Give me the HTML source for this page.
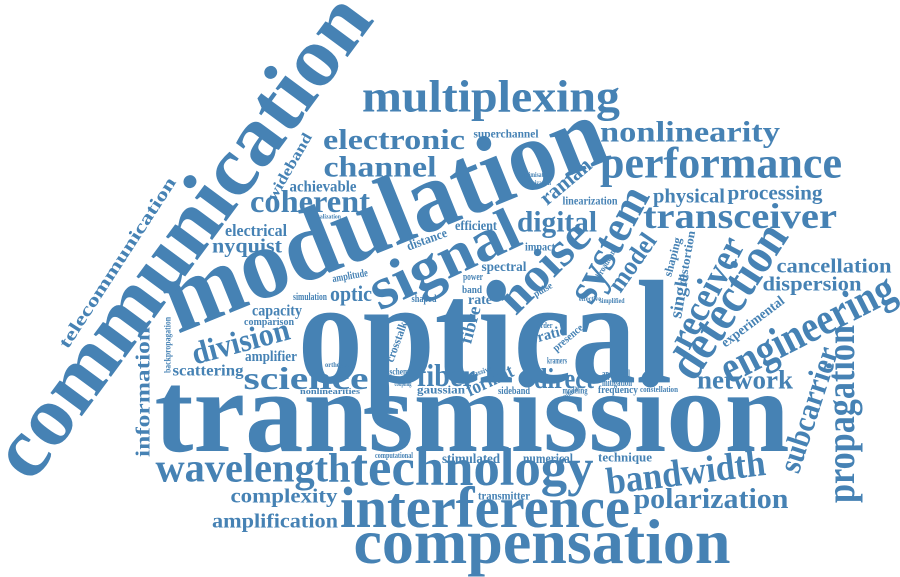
<!DOCTYPE html>
<html><head><meta charset="utf-8"><style>
html,body{margin:0;padding:0;background:#fff;}
svg{display:block;}
text{font-family:"Liberation Serif",serif;font-weight:bold;fill:#4682b4;}
</style></head><body>
<svg id="cloud" width="900" height="577" viewBox="0 0 900 577" xmlns="http://www.w3.org/2000/svg"></svg>
<script>
// word, centerX, centerY, angle, fontSize, length
const words = [
["transmission",472,418,0,117,635],
["optical",485,341,0,148,374],
["modulation",385,220,-22,100,470],
["communication",184,238,-53.5,85,578],
["compensation",542,545,0,64,377],
["interference",485,511,0,58,290],
["technology",472,470,0,53,243],
["wavelength",253,470,0,41,195],
["multiplexing",491,99,0,45,258],
["performance",721,165,0,44,242],
["transceiver",740,218,0,36,194],
["nonlinearity",690,133,0,30,180],
["electronic",394,141,0,28,142],
["channel",380,168,0,30,113],
["coherent",310,203,0,32,120],
["digital",557,223,0,30,80],
["signal",445,262,-25,60,160],
["noise",545,268,-45,48,110],
["system",610,245,-62,45,125],
["model",633,263,-55,26,65],
["receiver",708,293,-62,38,120],
["detection",730,302,-57,50,175],
["engineering",808,330,-27,45,190],
["propagation",843,414,-90,40,178],
["subcarrier",810,410,-72,32,130],
["network",745,381,0,26,96],
["bandwidth",686,474,-7,38,160],
["polarization",711,500,0,28,155],
["science",306,380,0,32,125],
["fiber",446,377,0,32,58],
["direct",564,380,0,28,60],
["division",241,343,-15,32,100],
["complexity",284,497,0,20,107],
["amplification",275,522,0,20,126],
["cancellation",834,267,0,20,115],
["dispersion",812,285,0,20,99],
["processing",775,194,0,20,95],
["physical",689,197,0,20,72],
["telecommunication",118,263,-57,18,200],
["information",144,392,-90,20,130],
["backpropagation",168,345,-90,9,56],
["electrical",256,231,0,17,62],
["nyquist",247,247,0,20,70],
["achievable",323,187,0,16,67],
["wideband",290,167,-60,15,75],
["capacity",277,311,0,16,50],
["comparison",269,322,0,11,50],
["amplifier",271,357,0,15,52],
["scattering",208,371,0,16,71],
["optic",351,295,0,22,42],
["superchannel",506,134,0,12,65],
["raman",566,182,-40,22,60],
["linearization",590,201,0,12,55],
["optimization",536,183,0,7,30],
["optimisation",536,175,0,7,30],
["experimental",753,322,-37,14,75],
["single",680,296,-80,18,45],
["shaping",673,257,-75,12,40],
["distortion",687,258,-80,12,55],
["broadband",607,262,-60,9,35],
["format",490,381,-25,20,50],
["fibre",471,325,-75,18,38],
["crosstalk",397,342,-70,12,42],
["stimulated",471,459,0,14,58],
["numerical",548,459,0,14,50],
["technique",625,458,0,13,54],
["transmitter",504,496,0,12,52],
["computational",394,456,0,8,38],
["gaussian",441,390,0,12,48],
["sideband",514,391,0,10,32],
["frequency",618,390,0,11,40],
["mitigation",617,383,0,10,30],
["analytical",616,374,0,10,28],
["constellation",659,390,0,8,38],
["modeling",575,391,0,9,25],
["kramers",557,361,0,9,20],
["scheme",401,372,0,9,23],
["coupling",403,384,0,7,17],
["nonlinearities",330,392,0,8,60],
["spectral",504,267,0,14,45],
["impact",540,247,0,12,30],
["efficient",476,226,0,14,42],
["distance",427,240,-20,13,42],
["amplitude",350,276,-10,11,36],
["simulation",310,297,0,10,34],
["rate",480,300,0,14,24],
["power",473,277,0,11,20],
["band",472,290,0,10,20],
["shaped",424,299,0,10,25],
["ratio",552,334,-15,15,30],
["order",545,326,0,8,15],
["presence",568,338,-40,11,36],
["pulse",543,290,-30,10,20],
["equalization",326,217,0,6,30],
["orthogonal",340,365,0,7,30],
["effective",590,299,0,7,22],
["simplified",612,301,0,7,25],
["passive",481,372,-20,8,22],
["standard",567,395,-30,7,25]
];
const svg = document.getElementById('cloud');
const NS = 'http://www.w3.org/2000/svg';
for (const w of words) {
  const t = document.createElementNS(NS, 'text');
  
  
  t.setAttribute('transform', 'translate(' + w[1] + ',' + w[2] + ') rotate(' + w[3] + ')');
  t.setAttribute('x', 0);
  t.setAttribute('y', (0.28 * w[4]).toFixed(1));
  t.setAttribute('font-size', w[4]);
  t.setAttribute('text-anchor', 'middle');
  t.setAttribute('textLength', w[5]);
  t.setAttribute('lengthAdjust', 'spacingAndGlyphs');
  t.textContent = w[0];
  svg.appendChild(t);
}
</script>
</body></html>
